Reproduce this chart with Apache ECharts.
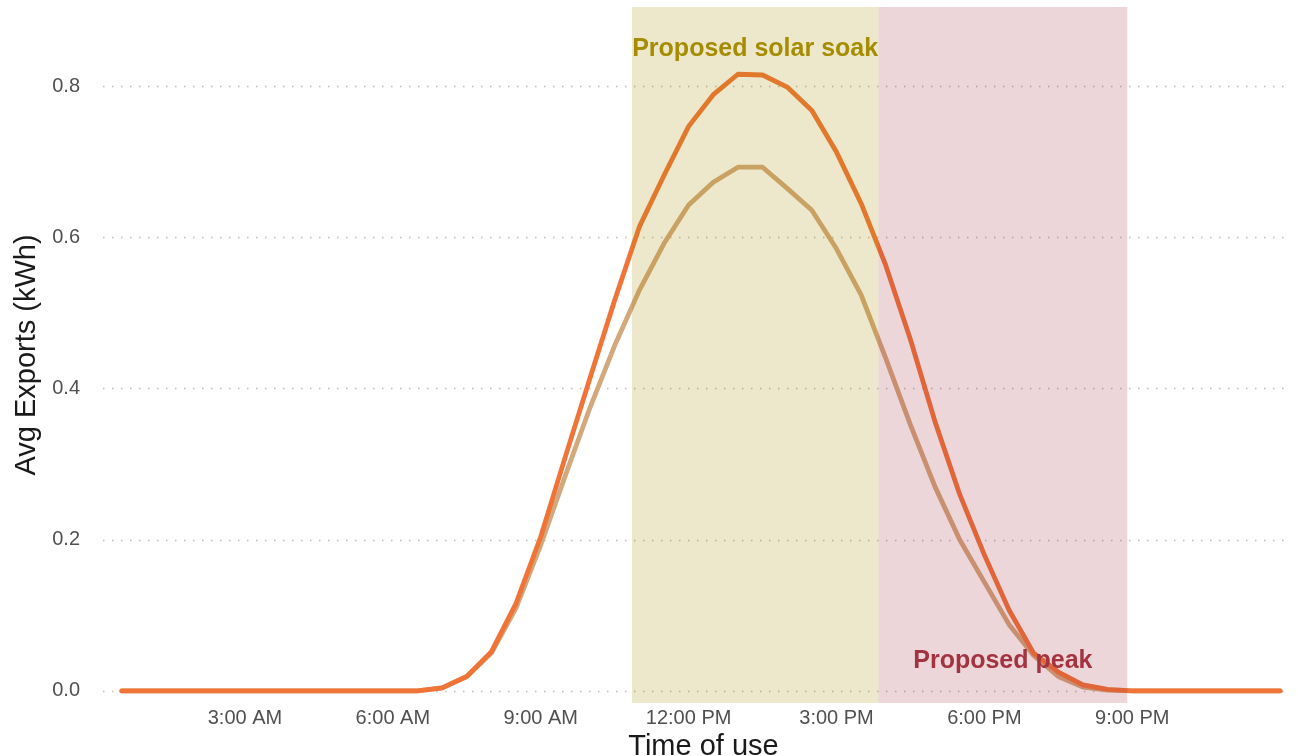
<!DOCTYPE html>
<html>
<head>
<meta charset="utf-8">
<script src="https://cdn.jsdelivr.net/npm/echarts@6/dist/echarts.min.js"></script>
<style>
html,body{margin:0;padding:0;background:#fff;}
#chart{width:1298px;height:756px;}
</style>
</head>
<body>
<div id="chart"></div>
<script>
// Time of use (hour of day, half-hour steps)
const hours = [0.5,1,1.5,2,2.5,3,3.5,4,4.5,5,5.5,6,6.5,7,7.5,8,8.5,9,9.5,10,10.5,11,11.5,12,
  12.5,13,13.5,14,14.5,15,15.5,16,16.5,17,17.5,18,18.5,19,19.5,20,20.5,21,21.5,22,22.5,23,23.5,24];

// Avg exports (kWh) - higher (orange) profile
const exportsHigh = [0,0,0,0,0,0,0,0,0,0,0,0,0,
  0.004,0.019,0.052,0.116,0.204,0.31,0.414,0.517,0.614,0.682,0.747,0.789,0.816,0.815,0.799,0.768,
  0.713,0.645,0.563,0.465,0.356,0.26,0.18,0.107,0.05,0.025,0.008,0.002,
  0,0,0,0,0,0,0];

// Avg exports (kWh) - lower (tan) profile
const exportsLow = [0,0,0,0,0,0,0,0,0,0,0,0,0,
  0.004,0.019,0.05,0.11,0.193,0.285,0.375,0.457,0.53,0.592,0.643,0.673,0.693,0.693,0.665,0.636,
  0.585,0.524,0.44,0.352,0.27,0.2,0.144,0.088,0.047,0.019,0.005,0.001,
  0,0,0,0,0,0,0];

// Axis ticks
const xTickHours = [3,6,9,12,15,18,21];
const xTickLabels = ['3:00 AM','6:00 AM','9:00 AM','12:00 PM','3:00 PM','6:00 PM','9:00 PM'];
const yTickValues = [0,0.2,0.4,0.6,0.8];
const yTickLabels = ['0.0','0.2','0.4','0.6','0.8'];

// Shaded periods (hour of day)
const soakPeriod = [10.85, 15.85];
const peakPeriod = [15.85, 20.9];
const soakLabel = 'Proposed solar soak';
const peakLabel = 'Proposed peak';

const FONT = '"Liberation Sans", Arial, Helvetica, sans-serif';

const chart = echarts.init(document.getElementById('chart'), null, {renderer: 'canvas'});

const option = {
  animation: false,
  backgroundColor: '#ffffff',
  textStyle: {fontFamily: FONT},
  grid: {left: 103, right: 8, top: 7, bottom: 53, containLabel: false, outerBoundsMode: 'none'},
  xAxis: {
    type: 'value',
    min: 0.12,
    max: 24.2,
    name: 'Time of use',
    nameLocation: 'middle',
    nameGap: 24,
    nameTextStyle: {fontFamily: FONT, fontSize: 29, color: '#1a1a1a', padding: [0, 0, 0, 14]},
    axisLine: {show: false},
    axisTick: {show: false, customValues: xTickHours},
    splitLine: {show: false},
    axisLabel: {
      customValues: xTickHours,
      fontFamily: FONT, fontSize: 20, color: '#505050', margin: 5,
      formatter: function (v) {
        const i = xTickHours.indexOf(v);
        return i >= 0 ? xTickLabels[i] : '';
      }
    }
  },
  yAxis: {
    type: 'value',
    min: -0.016,
    max: 0.905,
    name: 'Avg Exports (kWh)',
    nameLocation: 'middle',
    nameGap: 62,
    nameTextStyle: {fontFamily: FONT, fontSize: 29, color: '#1a1a1a'},
    axisLine: {show: false},
    axisTick: {show: false, customValues: yTickValues},
    axisLabel: {
      customValues: yTickValues,
      fontFamily: FONT, fontSize: 20, color: '#505050', margin: 23,
      formatter: function (v) {
        const i = yTickValues.findIndex(t => Math.abs(t - v) < 1e-9);
        return i >= 0 ? yTickLabels[i] : '';
      }
    },
    splitLine: {show: true, lineStyle: {color: '#bdbdbd', width: 1.4, type: [1.5, 7.5]}}
  },
  series: [
    {
      name: 'Exports (lower)',
      type: 'line',
      data: hours.map((h, i) => [h, exportsLow[i]]),
      showSymbol: false,
      symbol: 'none',
      lineStyle: {color: '#d2a87c', width: 4.8, cap: 'round', join: 'round'},
      z: 2
    },
    {
      name: 'Exports (higher)',
      type: 'line',
      data: hours.map((h, i) => [h, exportsHigh[i]]),
      showSymbol: false,
      symbol: 'none',
      lineStyle: {color: '#f07337', width: 4.8, cap: 'round', join: 'round'},
      z: 3,
      markArea: {
        z: 5,
        silent: true,
        data: [
          [
            {xAxis: soakPeriod[0], name: soakLabel,
             itemStyle: {color: 'rgba(166,140,0,0.2)'},
             label: {show: true, position: 'insideTop', distance: 30, color: '#a68c00',
                     fontFamily: FONT, fontSize: 25, fontWeight: 'bold'}},
            {xAxis: soakPeriod[1]}
          ],
          [
            {xAxis: peakPeriod[0], name: peakLabel,
             itemStyle: {color: 'rgba(160,48,64,0.2)'},
             label: {show: true, position: 'insideBottom', distance: 29, color: '#a33340',
                     fontFamily: FONT, fontSize: 25, fontWeight: 'bold'}},
            {xAxis: peakPeriod[1]}
          ]
        ]
      }
    }
  ]
};

chart.setOption(option);
</script>
</body>
</html>
